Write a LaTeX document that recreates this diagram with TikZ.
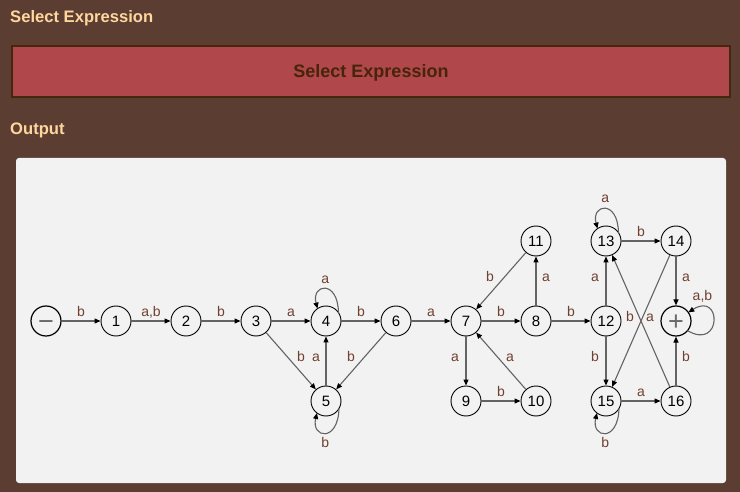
\documentclass[tikz,border=0pt]{standalone}
\usepackage{fontspec}
\setmainfont{Liberation Sans}
\usetikzlibrary{arrows.meta}
\definecolor{bgbrown}{RGB}{91,62,49}
\definecolor{hdr}{RGB}{255,214,158}
\definecolor{btnfill}{RGB}{176,71,75}
\definecolor{btnborder}{RGB}{70,38,12}
\definecolor{btntext}{RGB}{72,36,10}
\definecolor{panel}{RGB}{242,242,242}
\definecolor{edgegray}{RGB}{100,100,100}
\definecolor{labbrown}{RGB}{112,64,48}
\definecolor{signgray}{RGB}{105,105,105}
\tikzset{
  dfa/.style={circle, draw=black, line width=0.9pt, minimum size=30pt, inner sep=0pt,
    font=\fontsize{15}{15}\selectfont},
  endpt/.style={dfa, line width=1.2pt, text=signgray, font=\fontsize{27}{27}\selectfont,
    text height=18.9pt, text depth=0pt},
  conn/.style={draw=edgegray, line width=1.1pt, -{Triangle[length=6pt,width=5pt,color=black]}},
  lab/.style={font=\fontsize{14}{14}\selectfont, text=labbrown, anchor=base, inner sep=0pt},
  hab/.style={lab, yshift=4.5pt},
  hdrtxt/.style={anchor=base west, inner sep=0pt, text=hdr, font=\bfseries\fontsize{16.6}{16.6}\selectfont}
}
\begin{document}
\begin{tikzpicture}[x=1pt,y=-1pt]
\useasboundingbox (0,0) rectangle (740,492);
\fill[bgbrown] (0,0) rectangle (740,492);
\node[hdrtxt] (h1) at (10,23) {Select Expression};
\draw[line width=2pt, draw=btnborder, fill=btnfill] (12,46) rectangle (730,97);
\node[anchor=base, inner sep=0pt, text=btntext, font=\bfseries\fontsize{18}{18}\selectfont] (btn) at (371,77.5) {Select Expression};
\node[hdrtxt] (h2) at (10,135) {Output};
\fill[panel, rounded corners=3pt] (16,158) rectangle (726,483);

% states
\node[endpt] (s) at (46,321) {−};
\node[dfa] (n1) at (116,321) {1};
\node[dfa] (n2) at (186,321) {2};
\node[dfa] (n3) at (256,321) {3};
\node[dfa] (n4) at (326,321) {4};
\node[dfa] (n5) at (326,401) {5};
\node[dfa] (n6) at (396,321) {6};
\node[dfa] (n7) at (466,321) {7};
\node[dfa] (n8) at (536,321) {8};
\node[dfa] (n9) at (466,401) {9};
\node[dfa] (n10) at (536,401) {10};
\node[dfa] (n11) at (536,241) {11};
\node[dfa] (n12) at (606,321) {12};
\node[dfa] (n13) at (606,241) {13};
\node[dfa] (n14) at (676,241) {14};
\node[dfa] (n15) at (606,401) {15};
\node[dfa] (n16) at (676,401) {16};
\node[endpt] (f) at (676,321) {+};

% transitions
\draw[conn] (s) -- node[hab]{b} (n1);
\draw[conn] (n1) -- node[hab]{a,b} (n2);
\draw[conn] (n2) -- node[hab]{b} (n3);
\draw[conn] (n3) -- node[hab]{a} (n4);
\draw[conn] (n3) -- node[lab, xshift=10pt, yshift=-0.5pt]{b} (n5);
\draw[conn] (n5) -- node[lab, xshift=-10pt]{a} (n4);
\draw[conn] (n4) -- node[hab]{b} (n6);
\draw[conn] (n6) -- node[lab, xshift=-10pt, yshift=-0.5pt]{b} (n5);
\draw[conn] (n6) -- node[hab]{a} (n7);
\draw[conn] (n7) -- node[hab]{b} (n8);
\draw[conn] (n8) -- node[lab, xshift=10pt, yshift=-0.5pt]{a} (n11);
\draw[conn] (n11) -- node[lab, xshift=-11pt, yshift=-0.5pt]{b} (n7);
\draw[conn] (n7) -- node[lab, xshift=-11pt]{a} (n9);
\draw[conn] (n9) -- node[hab]{b} (n10);
\draw[conn] (n10) -- node[lab, xshift=9pt]{a} (n7);
\draw[conn] (n8) -- node[hab]{b} (n12);
\draw[conn] (n12) -- node[lab, xshift=-11pt, yshift=-1pt]{a} (n13);
\draw[conn] (n12) -- node[lab, xshift=-11pt]{b} (n15);
\draw[conn] (n13) -- node[hab]{b} (n14);
\draw[conn] (n14) -- node[lab, xshift=10pt, yshift=-1pt]{a} (f);
\draw[conn] (n14) -- node[lab, xshift=-11pt, yshift=-0.5pt]{b} (n15);
\draw[conn] (n16) -- node[lab, xshift=9pt]{a} (n13);
\draw[conn] (n15) -- node[hab]{a} (n16);
\draw[conn] (n16) -- node[lab, xshift=10pt]{b} (f);

% loops
\draw[conn] ([shift={(12.5,-8)}]n4.center) .. controls ([shift={(12,-42)}]n4.center) and ([shift={(-15,-37)}]n4.center) .. ([shift={(-8.5,-12.4)}]n4.center) node[lab, pos=0.5, yshift=5.5pt]{a};
\draw[conn] ([shift={(12.5,-8)}]n13.center) .. controls ([shift={(12,-42)}]n13.center) and ([shift={(-15,-37)}]n13.center) .. ([shift={(-8.5,-12.4)}]n13.center) node[lab, pos=0.5, yshift=6.5pt]{a};
\draw[conn] ([shift={(13,7.5)}]n5.center) .. controls ([shift={(12,42)}]n5.center) and ([shift={(-15,37)}]n5.center) .. ([shift={(-9,12)}]n5.center) node[lab, pos=0.5, yshift=-14.5pt]{b};
\draw[conn] ([shift={(13,7.5)}]n15.center) .. controls ([shift={(12,42)}]n15.center) and ([shift={(-15,37)}]n15.center) .. ([shift={(-9,12)}]n15.center) node[lab, pos=0.5, yshift=-14.5pt]{b};
\draw[conn] ([shift={(11.5,9.6)}]f.center) .. controls ([shift={(46,30)}]f.center) and ([shift={(46,-30)}]f.center) .. ([shift={(12.3,-8.6)}]f.center) node[lab, pos=0.5, xshift=-11pt, yshift=21pt]{a,b};
\end{tikzpicture}
\end{document}
